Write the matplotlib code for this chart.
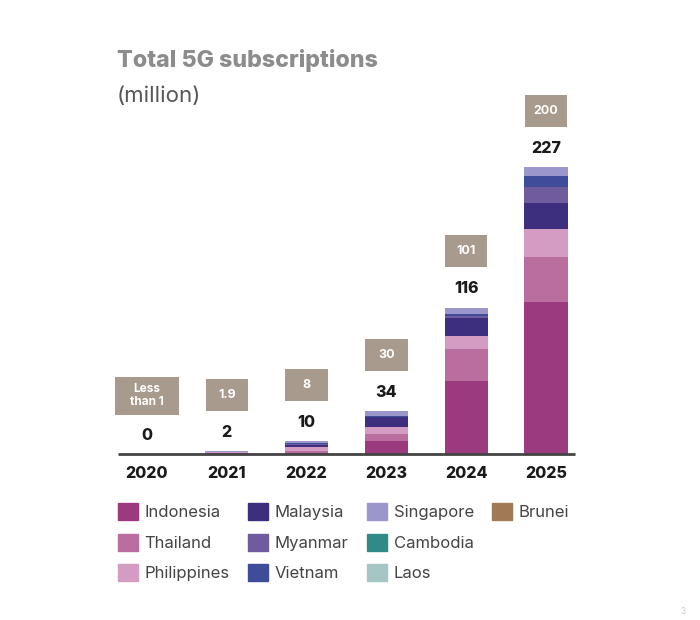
import numpy as np
import matplotlib.pyplot as plt
from matplotlib.patches import Rectangle, Patch

plt.rcParams['font.family'] = ['Inter', 'DejaVu Sans']

years = ['2020', '2021', '2022', '2023', '2024', '2025']
totals = [0, 2, 10, 34, 116, 227]
box_labels = ['Less\nthan 1', '1.9', '8', '30', '101', '200']

countries = ['Indonesia', 'Thailand', 'Philippines', 'Malaysia', 'Myanmar',
             'Vietnam', 'Singapore', 'Cambodia', 'Laos', 'Brunei']
indonesia = [0, 0.5, 1, 10, 57.5, 120]
thailand = [0, 0.5, 1.5, 6, 25.5, 36]
philippines = [0, 0.3, 3, 5, 10.5, 22]
malaysia = [0, 0.3, 2, 8, 14, 20.5]
myanmar = [0, 0, 0.5, 0.5, 2, 13]
vietnam = [0, 0, 0.5, 0.5, 1.5, 9]
singapore = [0, 0.4, 1.5, 4, 5, 6.5]
cambodia = [0, 0, 0, 0, 0, 0]
laos = [0, 0, 0, 0, 0, 0]
brunei = [0, 0, 0, 0, 0, 0]
series = [indonesia, thailand, philippines, malaysia, myanmar,
          vietnam, singapore, cambodia, laos, brunei]

colors = ['#9b3a7e', '#b96e9f', '#d49bc3', '#3e2e7e', '#6e5c9e',
          '#3f4c9a', '#9b97cc', '#2f8a88', '#a6c6c6', '#a07a55']
box_color = '#a89a8c'

fig = plt.figure(figsize=(7, 6.2), dpi=100)
# axes: x px 100..600, y px 454 (value 0) .. 60
ax = fig.add_axes([100/700, (620-454)/620, 500/700, 394/620])
ax.set_xlim(-0.589, 5.677)
ax.set_ylim(0, 312)
ax.axis('off')

x = np.arange(len(years))
bottom = np.zeros(len(years))
for vals, c in zip(series, colors):
    ax.bar(x, vals, width=0.54, bottom=bottom, color=c, linewidth=0)
    bottom += np.array(vals)

ax.plot([-0.36, 5.36], [0, 0], color='#444444', lw=2, zorder=5,
        solid_capstyle='butt', clip_on=False)

for xi, yr in zip(x, years):
    ax.annotate(yr, (xi, 0), xytext=(0, -20), textcoords='offset pixels',
                ha='center', va='center', fontsize=11.5, fontweight='heavy',
                color='#1a1a1a', annotation_clip=False)

for xi, top, tot, lab in zip(x, bottom, totals, box_labels):
    ax.annotate(str(tot), (xi, top), xytext=(0, 19), textcoords='offset pixels',
                ha='center', va='center', fontsize=11.5, fontweight='heavy',
                color='#1a1a1a')
    two_line = '\n' in lab
    w = 0.8 if two_line else 0.53
    h = 30 if two_line else 25.5
    cy = top + (46 if two_line else 44.5)
    ax.add_patch(Rectangle((xi - w/2, cy - h/2), w, h, color=box_color,
                           linewidth=0, clip_on=False))
    ax.text(xi, cy, lab, ha='center', va='center', fontsize=8.5 if two_line else 9,
            fontweight='bold', color='white', linespacing=1.1)

fig.text(117/700, 1 - 61/620, 'Total 5G subscriptions', fontsize=16.7,
         fontweight='heavy', color='#8c8c8c', va='center', ha='left')
fig.text(117/700, 1 - 96/620, '(million)', fontsize=16, color='#555555',
         va='center', ha='left')

handles = [Patch(color=c) for c in colors]
labels = list(countries)
handles += [Patch(color='none'), Patch(color='none')]
labels += ['', '']
fig.legend(handles, labels, ncol=4, loc='upper left',
           bbox_to_anchor=(103/700, 1 - 488/620), frameon=False,
           fontsize=12, handlelength=1.2, handleheight=1.2,
           handletextpad=0.4, labelspacing=0.8, columnspacing=1.1,
           labelcolor='#444444')

fig.text(683/700, 1 - 612/620, '3', fontsize=6, color='#cccccc',
         ha='center', va='center')

fig.savefig('out.png', dpi=100, facecolor='white')
